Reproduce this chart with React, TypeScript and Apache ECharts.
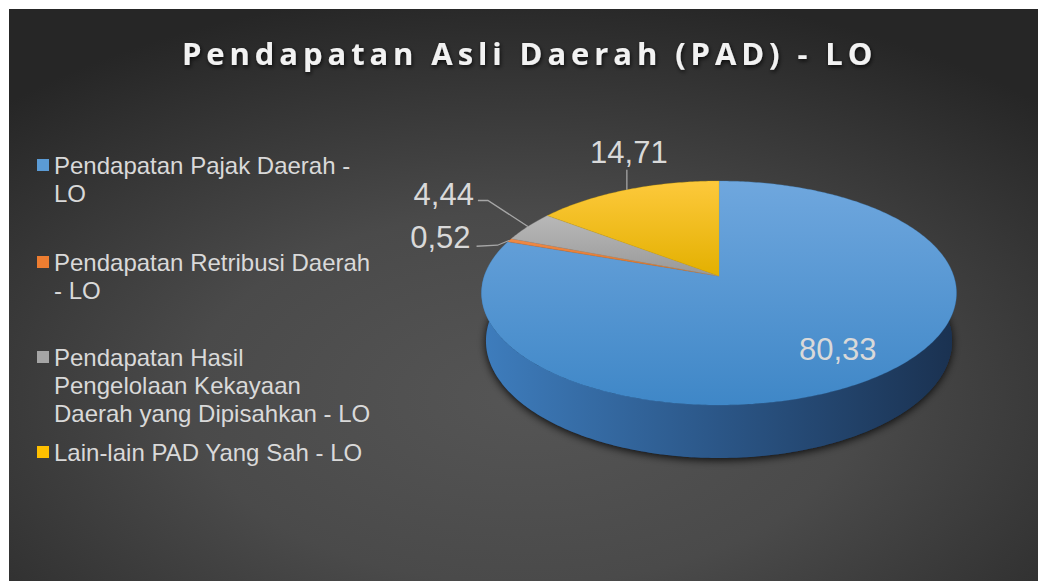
import React, { useEffect, useRef } from 'react';
import * as echarts from 'echarts';

// ---- data ----
const chartTitle = 'Pendapatan Asli Daerah (PAD) - LO';
const categories = [
  'Pendapatan Pajak Daerah - LO',
  'Pendapatan Retribusi Daerah - LO',
  'Pendapatan Hasil Pengelolaan Kekayaan Daerah yang Dipisahkan - LO',
  'Lain-lain PAD Yang Sah - LO',
];
const values = [80.33, 0.52, 4.44, 14.71];

// ---- styles ----
const sliceColors = ['#5b9bd5', '#ed7d31', '#a5a5a5', '#ffc000'];
const topGradients = [
  ['#6fa7de', '#3f87c7'],
  ['#f08a45', '#e0722a'],
  ['#b8b8b8', '#999999'],
  ['#fdc93c', '#e3b000'],
];
const wallGradients = [
  ['#3e7dbd', '#2b5687', '#1a3150'],
  ['#c9651f', '#a8541a', '#7d3f14'],
  ['#8a8a8a', '#6f6f6f', '#555555'],
  ['#d9a400', '#b08400', '#8a6800'],
];
const legendFirstLineY = [156, 253, 348, 443];
const LINE_H = 28;
const LEGEND_FONT = '24px "Liberation Sans", Arial, sans-serif';
const LEGEND_WRAP = 322;

// projection of a tilted disk with perspective
const CX = 710;
const CY = 267;
const F = 1368;
const D = 5.828;
const SIN_E = 0.4661;
const COS_E = 0.8847;
const THICK = 0.2328;

type Pt = [number, number];
function proj(a: number, r: number, h: number): Pt {
  const phi = ((90 - a) * Math.PI) / 180;
  const c = r * Math.cos(phi);
  const s = r * Math.sin(phi);
  const Y = s * SIN_E + h * COS_E;
  const Z = s * COS_E - h * SIN_E;
  return [CX + (F * c) / (D + Z), CY - (F * Y) / (D + Z)];
}
function arc(a0: number, a1: number, h: number): Pt[] {
  const n = Math.max(2, Math.ceil(Math.abs(a1 - a0) / 0.75));
  const out: Pt[] = [];
  for (let k = 0; k <= n; k++) out.push(proj(a0 + ((a1 - a0) * k) / n, 1, h));
  return out;
}

function wrapWords(text: string, maxW: number, font: string): string[] {
  const ctx = document.createElement('canvas').getContext('2d')!;
  ctx.font = font;
  const words = text.split(' ');
  const lines: string[] = [];
  let cur = '';
  for (const w of words) {
    const trial = cur ? cur + ' ' + w : w;
    if (cur && ctx.measureText(trial).width > maxW) {
      lines.push(cur);
      cur = w;
    } else cur = trial;
  }
  if (cur) lines.push(cur);
  return lines;
}

type LabelLayout =
  | { inside: number }
  | { bend: Pt; end: Pt; text: Pt; align: string };
const labelLayout: LabelLayout[] = [
  { inside: 0.77 },
  { bend: [-12, 5], end: [-33, 6], text: [-39, -3], align: 'right' },
  { bend: [-40, -26], end: [-50, -26], text: [-54, -32], align: 'right' },
  { bend: [0, -10], end: [0, -20], text: [2, -37], align: 'center' },
];

const fmt = (v: number) => v.toFixed(2).replace('.', ',');
const total = values.reduce((s, v) => s + v, 0);

function makeRenderItem(i: number) {
  return (_params: any, api: any) => {
    const v = api.value(0) as number;
    const before = values.slice(0, i).reduce((s, x) => s + x, 0);
    const start = (before / total) * 360;
    const end = start + (v / total) * 360;
    const mid = (start + end) / 2;
    const children: any[] = [];

    children.push({
      type: 'polygon',
      z2: 5,
      shape: { points: [proj(0, 0, -THICK), ...arc(start, end, -THICK)] },
      style: {
        fill: wallGradients[i][2],
        shadowBlur: 8,
        shadowColor: 'rgba(0,0,0,0.85)',
        shadowOffsetY: 2,
      },
    });

    const ws = Math.max(start, 88);
    const we = Math.min(end, 272);
    if (we > ws) {
      const top = arc(ws, we, 0);
      const bot = arc(ws, we, -THICK).reverse();
      children.push({
        type: 'polygon',
        z2: 20,
        shape: { points: [...top, ...bot] },
        style: {
          fill: new echarts.graphic.LinearGradient(0, 0, 1, 0, [
            { offset: 0, color: wallGradients[i][0] },
            { offset: 0.5, color: wallGradients[i][1] },
            { offset: 1, color: wallGradients[i][2] },
          ]),
        },
      });
    }

    children.push({
      type: 'polygon',
      z2: 30,
      shape: { points: [proj(0, 0, 0), ...arc(start, end, 0)] },
      style: {
        fill: new echarts.graphic.LinearGradient(0, 0, 0, 1, [
          { offset: 0, color: topGradients[i][0] },
          { offset: 1, color: topGradients[i][1] },
        ]),
        stroke: topGradients[i][1],
        lineWidth: 0.3,
      },
    });

    const lay = labelLayout[i];
    const txt = fmt(v);
    const font = '31px "Liberation Sans", Arial, sans-serif';
    if ('inside' in lay) {
      const p = proj(mid, lay.inside, 0);
      children.push({
        type: 'text',
        z2: 50,
        style: { text: txt, x: p[0] + 3, y: p[1] - 2, fill: '#d9d9d9', font, align: 'center', verticalAlign: 'middle' },
      });
    } else {
      const rim = proj(mid, 1, 0);
      children.push({
        type: 'polyline',
        z2: 45,
        shape: {
          points: [
            rim,
            [rim[0] + lay.bend[0], rim[1] + lay.bend[1]],
            [rim[0] + lay.end[0], rim[1] + lay.end[1]],
          ],
        },
        style: { stroke: '#a6a6a6', lineWidth: 1.3, fill: null },
      });
      children.push({
        type: 'text',
        z2: 50,
        style: {
          text: txt,
          x: rim[0] + lay.text[0],
          y: rim[1] + lay.text[1],
          fill: '#d9d9d9',
          font,
          align: lay.align,
          verticalAlign: 'middle',
        },
      });
    }
    return { type: 'group', children };
  };
}

export default function App() {
  const ref = useRef<HTMLDivElement>(null);
  useEffect(() => {
    const chart = echarts.init(ref.current!, null, { renderer: 'svg' });
    const wrapped = categories.map((c) => wrapWords(c, LEGEND_WRAP, LEGEND_FONT));
    const option: any = {
      animation: false,
      backgroundColor: new echarts.graphic.RadialGradient(0.5, 0.68, 0.72, [
        { offset: 0, color: '#555555' },
        { offset: 0.45, color: '#4a4a4a' },
        { offset: 1, color: '#262626' },
      ]),
      title: {
        text: chartTitle,
        left: 173,
        top: 28,
        padding: 0,
        textStyle: {
          color: '#f2f2f2',
          fontSize: 31,
          fontWeight: 'bold',
          fontFamily: '"Open Sans", sans-serif',
          textShadowColor: 'rgba(0,0,0,0.75)',
          textShadowBlur: 4,
          textShadowOffsetX: 1,
          textShadowOffsetY: 2,
        },
      },
      legend: categories.map((name, i) => {
        const n = wrapped[i].length;
        return {
          data: [name],
          orient: 'vertical',
          left: 28,
          top: legendFirstLineY[i] - (n - 1) * LINE_H - LINE_H / 2,
          padding: 0,
          itemGap: 0,
          icon: 'rect',
          itemWidth: 12,
          itemHeight: 12,
          selectedMode: false,
          // leading blank lines keep the marker level with the first text line
          formatter: () => '\n'.repeat(n - 1) + wrapped[i].join('\n'),
          textStyle: {
            color: '#d9d9d9',
            fontSize: 24,
            fontFamily: '"Liberation Sans", Arial, sans-serif',
            lineHeight: LINE_H,
          },
        };
      }),
      series: categories.map((name, i) => ({
        type: 'custom',
        name,
        coordinateSystem: 'none',
        itemStyle: { color: sliceColors[i] },
        data: [values[i]],
        renderItem: makeRenderItem(i),
      })),
    };
    chart.setOption(option);
    return () => chart.dispose();
  }, []);
  return (
    <>
      <style>{`.pad-chart text[style*="bold"]{letter-spacing:4.9px;}`}</style>
      <div
        ref={ref}
        className="pad-chart"
        style={{ position: 'absolute', left: 9, top: 9, width: 1029, height: 572 }}
      />
    </>
  );
}
